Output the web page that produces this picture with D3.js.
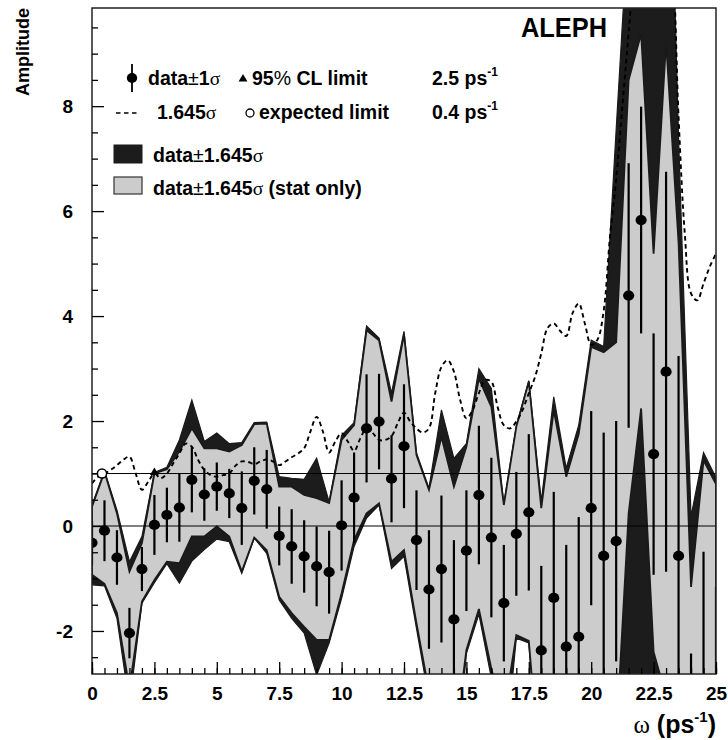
<!DOCTYPE html>
<html>
<head>
<meta charset="utf-8">
<script src="https://cdn.jsdelivr.net/npm/d3@7"></script>
<style>
  body { margin: 0; background: #fff; }
  text { font-family: "Liberation Sans", Arial, Helvetica, sans-serif; font-weight: bold; }
</style>
</head>
<body>
<svg id="chart"></svg>
<script>
// amplitude scan, one point every 0.5 ps-1
const omega = [0, 0.5, 1, 1.5, 2, 2.5, 3, 3.5, 4, 4.5, 5, 5.5, 6, 6.5, 7, 7.5, 8, 8.5, 9, 9.5,
  10, 10.5, 11, 11.5, 12, 12.5, 13, 13.5, 14, 14.5, 15, 15.5, 16, 16.5, 17, 17.5, 18, 18.5, 19, 19.5,
  20, 20.5, 21, 21.5, 22, 22.5, 23, 23.5, 24, 24.5, 25];
const amplitude = [-0.32, -0.09, -0.60, -2.04, -0.82, 0.02, 0.21, 0.35, 0.88, 0.60, 0.75, 0.62, 0.34, 0.86, 0.70, -0.19, -0.39, -0.58, -0.77, -0.88,
  0.01, 0.54, 1.86, 1.99, 0.90, 1.52, -0.27, -1.21, -0.82, -1.78, -0.47, 0.59, -0.22, -1.47, -0.15, 0.26, -2.37, -1.37, -2.30, -2.11,
  0.34, -0.57, -0.29, 4.39, 5.83, 1.37, 2.94, -0.57, -4.40, -3.19, -4.20];
const sigma = [0.42, 0.58, 0.52, 0.48, 0.42, 0.57, 0.52, 0.65, 0.62, 0.50, 0.46, 0.47, 0.70, 0.64, 0.75, 0.56, 0.71, 0.69, 0.76, 0.79,
  0.86, 0.86, 1.03, 0.91, 0.83, 1.18, 0.95, 1.13, 1.40, 1.51, 1.15, 1.32, 1.52, 1.11, 1.18, 1.49, 1.61, 2.02, 1.94, 2.28,
  1.85, 2.35, 2.29, 2.52, 2.16, 2.30, 3.81, 3.81, 1.97, 2.70, 3.04];

// band edges: data +- 1.645 sigma (total) and (stat only)
const totUpper = [0.40, 1.05, 0.30, -0.68, -0.20, 1.02, 1.12, 1.64, 2.40, 1.61, 1.77, 1.57, 1.59, 1.97, 1.98, 0.94, 0.91, 0.89, 1.29, 0.46,
  1.73, 1.97, 3.81, 3.58, 2.53, 3.71, 1.39, 0.72, 2.21, 1.29, 1.57, 3.00, 2.62, 0.42, 1.91, 2.77, 0.47, 2.46, 1.10, 1.92,
  3.54, 3.42, 7.55, 11.6, 14.0, 14.0, 16.2, 7.40, 0.18, 1.40, 0.92];
const totLower = [-1.12, -1.14, -1.76, -3.40, -1.47, -1.08, -0.72, -1.09, -0.67, -0.45, -0.25, -0.30, -0.90, -0.23, -0.52, -1.41, -1.76, -2.04, -2.84, -2.23,
  -1.38, -0.39, 0.15, 0.40, -0.81, -0.58, -1.95, -3.30, -3.50, -5.00, -2.43, -1.68, -2.90, -4.60, -2.14, -2.23, -5.30, -5.00, -5.80, -6.20,
  -2.95, -5.00, -8.00, -8.00, -8.00, -8.00, -8.00, -9.00, -9.00, -9.00, -10.0];
const statUpper = [0.37, 1.03, 0.24, -0.87, -0.33, 1.00, 1.08, 1.42, 1.86, 1.48, 1.48, 1.42, 1.54, 1.94, 1.95, 0.75, 0.75, 0.59, 0.53, 0.44,
  1.64, 1.92, 3.73, 3.54, 2.37, 3.65, 1.35, 0.69, 1.70, 0.75, 1.51, 2.81, 2.27, 0.40, 1.89, 2.75, 0.34, 2.21, 0.94, 1.75,
  3.41, 3.31, 3.50, 8.50, 9.38, 5.19, 9.22, 5.40, -1.16, 1.25, 0.80];
const statLower = [-0.93, -1.10, -1.66, -3.10, -1.44, -1.03, -0.68, -0.71, -0.20, -0.20, -0.01, -0.20, -0.87, -0.22, -0.46, -1.35, -1.66, -1.92, -2.17, -2.17,
  -1.28, -0.27, 0.24, 0.43, -0.68, -0.46, -1.85, -3.15, -3.20, -4.26, -2.36, -1.58, -2.72, -3.60, -2.08, -2.19, -5.00, -4.70, -5.50, -5.90,
  -2.90, -4.40, -4.06, 0.24, 2.24, -2.40, -3.24, -6.80, -7.60, -7.60, -9.20];

// 1.645 sigma curve, finer sampling
const curveOmega = [0, 0.25, 0.5, 0.75, 1, 1.25, 1.5, 1.75, 2, 2.25, 2.5, 2.75, 3, 3.25, 3.5, 3.75, 4, 4.25, 4.5, 4.75,
  5, 5.25, 5.5, 5.75, 6, 6.25, 6.5, 6.75, 7, 7.25, 7.5, 7.75, 8, 8.25, 8.5, 8.75, 9, 9.25, 9.5, 9.75,
  10, 10.25, 10.5, 10.75, 11, 11.25, 11.5, 11.75, 12, 12.25, 12.5, 12.75, 13, 13.25, 13.5, 13.75, 14, 14.25, 14.5, 14.75,
  15, 15.25, 15.5, 15.75, 16, 16.25, 16.5, 16.75, 17, 17.25, 17.5, 17.75, 18, 18.25, 18.5, 18.75, 19, 19.25, 19.5, 19.75,
  20, 20.25, 20.5, 20.75, 21, 21.25, 21.5, 21.75, 22, 22.25, 22.5, 22.75, 23, 23.25, 23.5, 23.75, 24, 24.25, 24.5, 24.75, 25];
const curveSigma = [0.81, 0.94, 1.00, 1.07, 1.16, 1.26, 1.32, 1.00, 0.69, 0.84, 1.00, 0.91, 1.00, 1.19, 1.38, 1.57, 1.51, 1.26, 1.07, 0.97,
  0.94, 0.97, 1.00, 1.15, 1.23, 1.22, 1.18, 1.23, 1.27, 1.23, 1.16, 1.23, 1.31, 1.38, 1.48, 1.80, 2.08, 1.80, 1.40, 1.61,
  1.77, 1.61, 1.43, 1.67, 1.86, 1.77, 1.64, 1.64, 1.71, 1.96, 2.16, 1.99, 1.86, 1.78, 1.86, 2.53, 3.03, 3.16, 2.94, 2.40,
  2.05, 2.21, 2.53, 2.78, 2.75, 2.27, 1.92, 1.86, 1.99, 2.21, 2.53, 2.84, 3.29, 3.77, 3.86, 3.72, 3.62, 4.05, 4.24, 3.85,
  3.45, 3.55, 4.10, 5.50, 6.60, 8.00, 9.40, 10.8, 11.8, 12.4, 12.6, 12.2, 11.6, 10.8, 7.80, 5.57, 4.43, 4.30, 4.62, 4.94, 5.19];

const limitOmega = 2.5;      // 95% CL limit
const expectedOmega = 0.4;   // expected limit
const xTicks = [0, 2.5, 5, 7.5, 10, 12.5, 15, 17.5, 20, 22.5, 25];
const xTickLabels = ["0", "2.5", "5", "7.5", "10", "12.5", "15", "17.5", "20", "22.5", "25"];
const yTicks = [-2, 0, 2, 4, 6, 8];
const yTickLabels = ["-2", "0", "2", "4", "6", "8"];
const yMinor = [-2.5, -1.5, -1, -0.5, 0.5, 1, 1.5, 2.5, 3, 3.5, 4.5, 5, 5.5, 6.5, 7, 7.5, 8.5, 9, 9.5];

const width = 728, height = 740;
const plotL = 92, plotR = 716, plotT = 8, plotB = 674;
const ink = '#1a1a1a';

const svg = d3.select('#chart').attr('width', width).attr('height', height);

const x = d3.scaleLinear().domain([0, 25]).range([plotL, plotR]);
const y = d3.scaleLinear().domain([-2.82, 9.87]).range([plotB, plotT]);

svg.append('clipPath').attr('id', 'plot')
  .append('rect').attr('x', plotL).attr('y', plotT).attr('width', plotR - plotL).attr('height', plotB - plotT);

const plot = svg.append('g').attr('clip-path', 'url(#plot)');

// total band (black), then stat-only band (grey) on top
const totArea = d3.area().x((d, i) => x(omega[i])).y0((d, i) => y(totLower[i])).y1((d, i) => y(totUpper[i]));
const statArea = d3.area().x((d, i) => x(omega[i])).y0((d, i) => y(statLower[i])).y1((d, i) => y(statUpper[i]));

plot.append('path').datum(omega).attr('d', totArea)
  .attr('fill', '#1c1c1c').attr('stroke', ink).attr('stroke-width', 1.2);
plot.append('path').datum(omega).attr('d', statArea)
  .attr('fill', '#cccccc').attr('stroke', ink).attr('stroke-width', 1.8).attr('stroke-linejoin', 'miter');

// reference lines at 0 and 1
plot.selectAll('.hline').data([0, 1]).enter().append('line')
  .attr('x1', plotL).attr('x2', plotR)
  .attr('y1', d => y(d)).attr('y2', d => y(d))
  .attr('stroke', '#000').attr('stroke-width', 1);

// 1.645 sigma dashed curve
const sigLine = d3.line().x((d, i) => x(curveOmega[i])).y(d => y(d)).curve(d3.curveCatmullRom.alpha(0.5));
plot.append('path').datum(curveSigma).attr('d', sigLine)
  .attr('fill', 'none').attr('stroke', '#000').attr('stroke-width', 1.9).attr('stroke-dasharray', '4.5,3.5');

// error bars and points
plot.selectAll('.err').data(omega).enter().append('line')
  .attr('x1', d => x(d)).attr('x2', d => x(d))
  .attr('y1', (d, i) => y(amplitude[i] + sigma[i]))
  .attr('y2', (d, i) => y(amplitude[i] - sigma[i]))
  .attr('stroke', '#000').attr('stroke-width', 2.2);
plot.selectAll('.pt').data(omega).enter().append('ellipse')
  .attr('cx', d => x(d)).attr('cy', (d, i) => y(amplitude[i]))
  .attr('rx', 5.6).attr('ry', 5.1).attr('fill', '#000');

// limit markers
plot.append('path').attr('d', d3.symbol(d3.symbolTriangle, 34)())
  .attr('transform', `translate(${x(limitOmega)},${y(1) - 1})`).attr('fill', '#000');
plot.append('circle').attr('cx', x(expectedOmega)).attr('cy', y(1)).attr('r', 4.6)
  .attr('fill', '#fff').attr('stroke', '#000').attr('stroke-width', 1.5);

// frame
svg.append('rect').attr('x', plotL).attr('y', plotT).attr('width', plotR - plotL).attr('height', plotB - plotT)
  .attr('fill', 'none').attr('stroke', '#222').attr('stroke-width', 1.5);

// axes with inward ticks
const yMajor = svg.append('g').attr('transform', `translate(${plotL},0)`)
  .call(d3.axisLeft(y).tickValues(yTicks).tickSize(-12).tickPadding(19).tickFormat((d, i) => yTickLabels[i]));
const yMin = svg.append('g').attr('transform', `translate(${plotL},0)`)
  .call(d3.axisLeft(y).tickValues(yMinor).tickSize(-6).tickFormat(''));
const xMajor = svg.append('g').attr('transform', `translate(0,${plotB})`)
  .call(d3.axisBottom(x).tickValues(xTicks).tickSize(-12).tickPadding(13).tickFormat((d, i) => xTickLabels[i]));
const xMin = svg.append('g').attr('transform', `translate(0,${plotB})`)
  .call(d3.axisBottom(x).tickValues(omega).tickSize(-6).tickFormat(''));

[yMajor, yMin, xMajor, xMin].forEach(g => {
  g.select('.domain').remove();
  g.selectAll('line').attr('stroke', '#000').attr('stroke-width', 1.3);
  g.selectAll('text').attr('fill', '#000').attr('font-size', 19)
    .attr('font-family', '"Liberation Sans", Arial, sans-serif').attr('font-weight', 'bold');
});

// axis titles
svg.append('text').attr('transform', 'translate(29,96) rotate(-90)')
  .attr('font-size', 18).text('Amplitude');

const xt = svg.append('text').attr('x', plotR).attr('y', 733).attr('text-anchor', 'end').attr('font-size', 25);
xt.append('tspan').attr('font-family', '"Liberation Serif", "Times New Roman", serif').attr('font-weight', 'normal').text('ω');
xt.append('tspan').text(' (ps');
xt.append('tspan').attr('font-size', 15).attr('dy', -11).text('-1');
xt.append('tspan').attr('dy', 11).text(')');

svg.append('text').attr('x', 607).attr('y', 37).attr('text-anchor', 'end')
  .attr('font-size', 28).attr('textLength', 86).attr('lengthAdjust', 'spacingAndGlyphs').text('ALEPH');

// legend
const lg = svg.append('g').attr('font-size', 19.5);
const sym = t => t.attr('font-weight', 'normal').attr('font-family', '"Liberation Serif", "Times New Roman", serif');
const sup = (t, s) => { t.append('tspan').attr('font-size', 12).attr('dy', -9).text(s); };

lg.append('line').attr('x1', 132).attr('x2', 132).attr('y1', 64).attr('y2', 92).attr('stroke', '#000').attr('stroke-width', 1.8);
lg.append('ellipse').attr('cx', 132).attr('cy', 78).attr('rx', 5.2).attr('ry', 5).attr('fill', '#000');
let t = lg.append('text').attr('x', 148).attr('y', 85);
t.append('tspan').text('data');
t.append('tspan').attr('font-weight', 'normal').text('±');
t.append('tspan').text('1');
sym(t.append('tspan')).text('σ');

lg.append('path').attr('d', d3.symbol(d3.symbolTriangle, 34)()).attr('transform', 'translate(243,79)').attr('fill', '#000');
t = lg.append('text').attr('x', 252).attr('y', 85);
t.append('tspan').text('95');
t.append('tspan').attr('font-weight', 'normal').text('%');
t.append('tspan').text(' CL limit');

t = lg.append('text').attr('x', 432).attr('y', 85).text('2.5 ps');
sup(t, '-1');

lg.append('line').attr('x1', 116).attr('x2', 139).attr('y1', 113).attr('y2', 113)
  .attr('stroke', '#000').attr('stroke-width', 1.4).attr('stroke-dasharray', '4.5,3.5');
t = lg.append('text').attr('x', 157).attr('y', 119);
t.append('tspan').text('1.645');
sym(t.append('tspan')).text('σ');

lg.append('circle').attr('cx', 250).attr('cy', 113).attr('r', 4).attr('fill', '#fff').attr('stroke', '#000').attr('stroke-width', 1.3);
lg.append('text').attr('x', 259).attr('y', 119).text('expected limit');

t = lg.append('text').attr('x', 432).attr('y', 119).text('0.4 ps');
sup(t, '-1');

lg.append('rect').attr('x', 114).attr('y', 145).attr('width', 28).attr('height', 18)
  .attr('fill', '#1c1c1c').attr('stroke', ink).attr('stroke-width', 1);
t = lg.append('text').attr('x', 153).attr('y', 162);
t.append('tspan').text('data');
t.append('tspan').attr('font-weight', 'normal').text('±');
t.append('tspan').text('1.645');
sym(t.append('tspan')).text('σ');

lg.append('rect').attr('x', 114).attr('y', 177).attr('width', 28).attr('height', 17)
  .attr('fill', '#cccccc').attr('stroke', '#333').attr('stroke-width', 1.2);
t = lg.append('text').attr('x', 153).attr('y', 195);
t.append('tspan').text('data');
t.append('tspan').attr('font-weight', 'normal').text('±');
t.append('tspan').text('1.645');
sym(t.append('tspan')).text('σ');
t.append('tspan').text(' (stat only)');
</script>
</body>
</html>
